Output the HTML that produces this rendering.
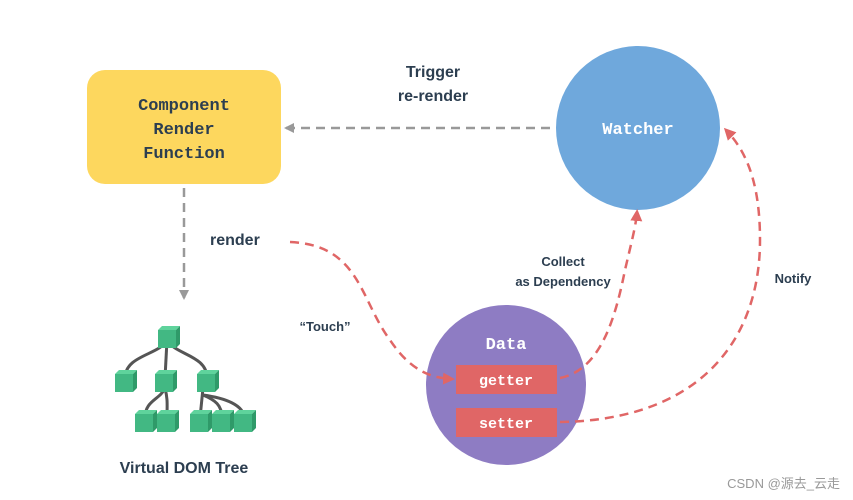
<!DOCTYPE html>
<html><head><meta charset="utf-8"><style>
body{margin:0;background:#fff}
svg{display:block}
.m{font-family:"Liberation Mono",monospace;font-weight:bold}
.s{font-family:"Liberation Sans",sans-serif;font-weight:bold;fill:#2c3e50}
</style></head><body>
<svg width="853" height="500" viewBox="0 0 853 500">
<defs>
<marker id="ag" markerWidth="10" markerHeight="10" refX="8" refY="5" orient="auto" markerUnits="userSpaceOnUse"><path d="M0,0 L10,5 L0,10 z" fill="#999"/></marker>
<marker id="ar" markerWidth="12" markerHeight="12" refX="9" refY="6" orient="auto" markerUnits="userSpaceOnUse"><path d="M0,0 L12,6 L0,12 z" fill="#e06666"/></marker>
<g id="cube"><rect x="-10" y="-8" width="18" height="18" fill="#42b883"/><path d="M-10,-8 l4,-4 h18 l-4,4z" fill="#5fd39c"/><path d="M8,-8 l4,-4 v18 l-4,4z" fill="#2f9a69"/></g>
</defs>
<rect x="87" y="70" width="194" height="114" rx="18" fill="#fdd75e"/>
<text class="m" font-size="17" fill="#2c3e50" text-anchor="middle"><tspan x="184" y="110">Component</tspan><tspan x="184" y="134">Render</tspan><tspan x="184" y="158">Function</tspan></text>
<circle cx="638" cy="128" r="82" fill="#6fa8dc"/>
<text class="m" x="638" y="134" font-size="17" fill="#fff" text-anchor="middle">Watcher</text>
<text class="s" font-size="16" text-anchor="middle"><tspan x="433" y="77">Trigger</tspan><tspan x="433" y="101">re-render</tspan></text>
<line x1="550" y1="128" x2="286" y2="128" stroke="#999" stroke-width="2.5" stroke-dasharray="9,6" marker-end="url(#ag)"/>
<line x1="184" y1="188" x2="184" y2="298" stroke="#999" stroke-width="2.5" stroke-dasharray="9,6" marker-end="url(#ag)"/>
<text class="s" x="210" y="245" font-size="16">render</text>
<text class="s" x="325" y="331" font-size="13" text-anchor="middle">“Touch”</text>
<text class="s" font-size="13" text-anchor="middle"><tspan x="563" y="266">Collect</tspan><tspan x="563" y="286">as Dependency</tspan></text>
<text class="s" x="793" y="283" font-size="13" text-anchor="middle">Notify</text>
<g stroke="#555" stroke-width="3" fill="none">
<path d="M167,340 C160,355 125,355 125,378"/><path d="M167,340 L165,378"/><path d="M167,340 C175,355 207,355 207,378"/>
<path d="M165,388 C160,400 145,400 145,418"/><path d="M165,388 C168,400 167,405 167,418"/>
<path d="M203,388 L200,418"/><path d="M203,395 C215,400 222,405 222,418"/><path d="M203,395 C225,398 244,405 244,418"/>
</g>
<use href="#cube" x="168" y="338"/>
<use href="#cube" x="125" y="382"/><use href="#cube" x="165" y="382"/><use href="#cube" x="207" y="382"/>
<use href="#cube" x="145" y="422"/><use href="#cube" x="167" y="422"/><use href="#cube" x="200" y="422"/><use href="#cube" x="222" y="422"/><use href="#cube" x="244" y="422"/>
<text class="s" x="184" y="473" font-size="16" text-anchor="middle">Virtual DOM Tree</text>
<circle cx="506" cy="385" r="80" fill="#8e7cc3"/>
<text class="m" x="506" y="349" font-size="17" fill="#fff" text-anchor="middle">Data</text>
<rect x="456" y="365" width="101" height="29" fill="#e06666"/>
<rect x="456" y="408" width="101" height="29" fill="#e06666"/>
<text class="m" x="506" y="385" font-size="15" fill="#fff" text-anchor="middle">getter</text>
<text class="m" x="506" y="428" font-size="15" fill="#fff" text-anchor="middle">setter</text>
<g fill="none" stroke="#e06666" stroke-width="2.5" stroke-dasharray="9,6">
<path d="M290,242 C360,245 360,300 390,340 C410,370 430,378 452,379" marker-end="url(#ar)"/>
<path d="M560,378 C600,370 615,320 625,270 C632,240 636,225 637,212" marker-end="url(#ar)"/>
<path d="M560,422 C700,420 760,340 760,240 C760,180 745,150 726,130" marker-end="url(#ar)"/>
</g>
<text x="840" y="488" font-family="Liberation Sans,'Noto Sans CJK SC',sans-serif" font-size="13" fill="#999" text-anchor="end">CSDN @源去_云走</text>
</svg>
</body></html>
